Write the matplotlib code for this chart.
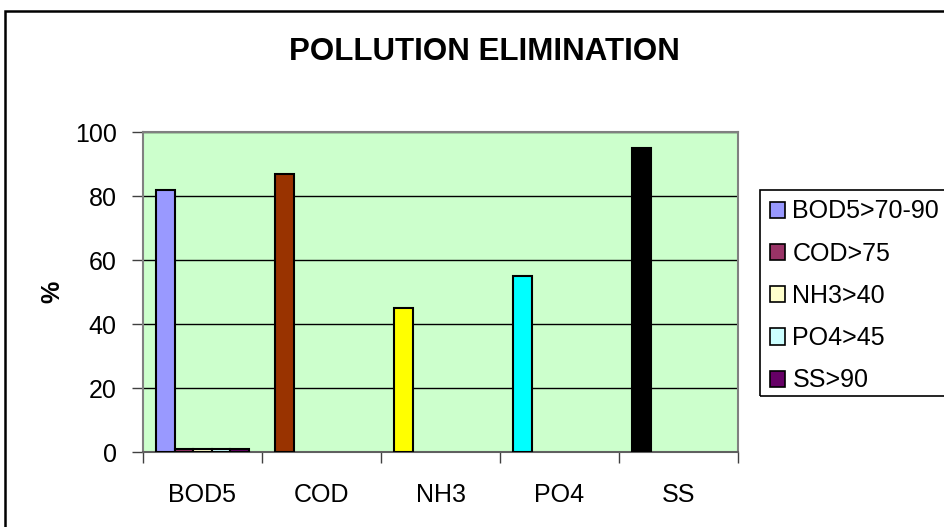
import matplotlib
matplotlib.use("Agg")
import matplotlib.pyplot as plt
from matplotlib.patches import Rectangle
import numpy as np

plt.rcParams['font.family'] = ['Liberation Sans', 'DejaVu Sans']

categories = ["BOD5", "COD", "NH3", "PO4", "SS"]
series_names = ["BOD5>70-90", "COD>75", "NH3>40", "PO4>45", "SS>90"]
bod5_vals = [82, 87, 45, 55, 95]
cod_vals = [1, 0, 0, 0, 0]
nh3_vals = [1, 0, 0, 0, 0]
po4_vals = [1, 0, 0, 0, 0]
ss_vals = [1, 0, 0, 0, 0]
series_values = [bod5_vals, cod_vals, nh3_vals, po4_vals, ss_vals]
series_colors = ["#9999FF", "#993366", "#FFFFCC", "#CCFFFF", "#660066"]
point_colors_first = ["#9999FF", "#993300", "#FFFF00", "#00FFFF", "#000000"]
yticks = [0, 20, 40, 60, 80, 100]

W, H = 944, 527
fig = plt.figure(figsize=(W / 100, H / 100), dpi=100)
fig.patch.set_facecolor("white")

ax = fig.add_axes([143 / W, 1 - 452 / H, (738 - 143) / W, (452 - 132) / H])
ax.set_facecolor("#CCFFCC")

x = np.arange(len(categories))
bw = 0.155
handles = []
for i, (vals, name, col) in enumerate(zip(series_values, series_names, series_colors)):
    offs = (i - 2) * bw
    colors = point_colors_first if i == 0 else [col] * len(vals)
    lws = [1.5 if v > 0 else 0 for v in vals]
    ax.bar(x + offs, vals, width=bw, color=colors, edgecolor="black",
           linewidth=lws, zorder=3, label=name)
    h = Rectangle((0, 0), 1, 1, facecolor=col, edgecolor="black", linewidth=1.2)
    handles.append(h)

ax.set_xlim(-0.5, len(categories) - 0.5)
ax.set_ylim(0, 100)
ax.set_yticks(yticks)
ax.set_yticklabels([str(t) for t in yticks])
ax.yaxis.grid(True, color="black", linewidth=1.0, zorder=1)
ax.set_axisbelow(True)

ax.set_xticks(np.arange(-0.5, len(categories), 1.0))
ax.set_xticklabels([])
ax.set_xticks(x, minor=True)
ax.set_xticklabels(categories, minor=True)
ax.tick_params(axis="x", which="major", length=8, width=1, color="#404040", direction="out")
ax.tick_params(axis="x", which="minor", length=0, pad=22, labelsize=18)
ax.tick_params(axis="y", length=8, width=1, color="#404040", direction="out", pad=11, labelsize=18)

for s in ["top", "right", "left"]:
    ax.spines[s].set_color("#808080")
    ax.spines[s].set_linewidth(1.5)
ax.spines["bottom"].set_color("#606060")
ax.spines["bottom"].set_linewidth(1.5)

fig.text(484 / W, 1 - 52 / H, "POLLUTION ELIMINATION", ha="center", va="center",
         fontsize=22.5, fontweight="bold")
fig.text(52 / W, 1 - 292 / H, "%", ha="center", va="center", rotation=90,
         fontsize=18, fontweight="bold")

# legend entries
fig.legend(handles, series_names, loc="upper left",
           bbox_to_anchor=(762 / W, 1 - 192 / H), frameon=False,
           fontsize=18, handlelength=0.62, handleheight=0.62,
           handletextpad=0.3, labelspacing=0.73, borderpad=0.3,
           borderaxespad=0)

# legend frame (extends past right edge)
fig.patches.append(Rectangle((760 / W, 1 - 396 / H), 300 / W, (396 - 190) / H,
                             transform=fig.transFigure, fill=False,
                             edgecolor="black", linewidth=1.2, zorder=5))
# outer chart frame (extends past right and bottom edges)
fig.patches.append(Rectangle((5 / W, -50 / H), 1000 / W, (527 - 11 + 50) / H,
                             transform=fig.transFigure, fill=False,
                             edgecolor="black", linewidth=1.8, zorder=5))

fig.savefig("out.png", dpi=100)
